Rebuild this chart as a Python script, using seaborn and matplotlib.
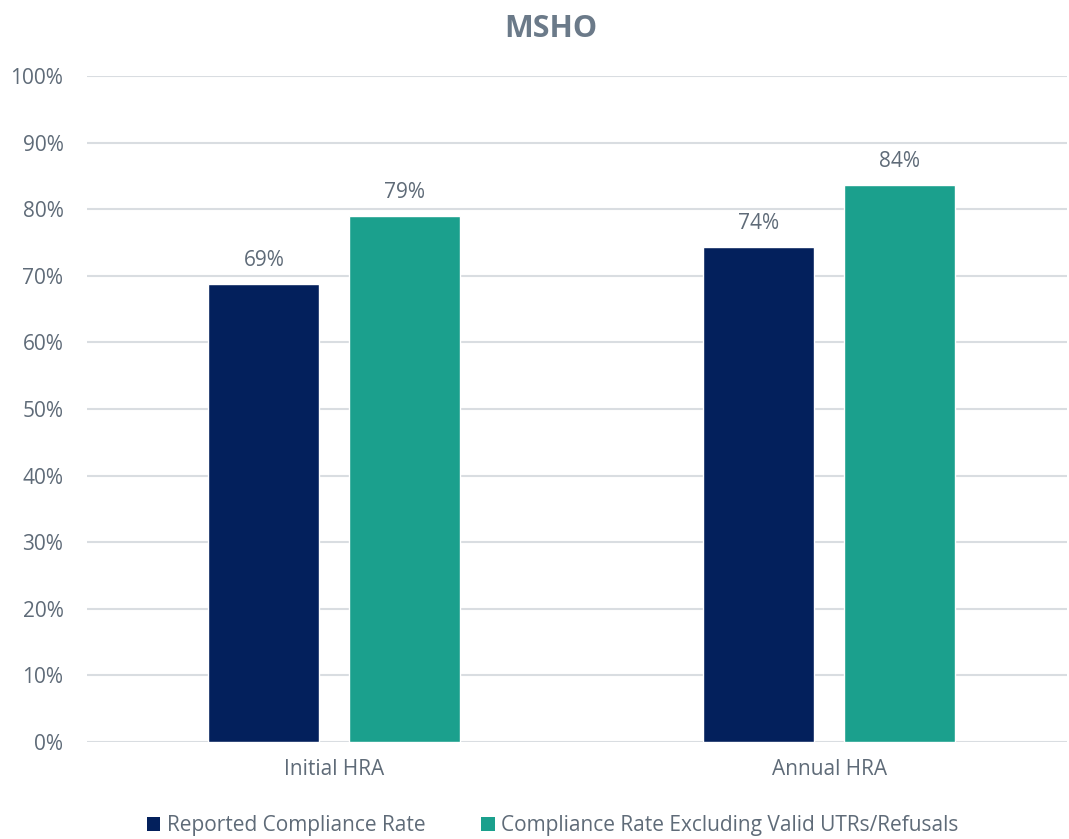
import matplotlib
matplotlib.use("Agg")
import matplotlib.pyplot as plt
import seaborn as sns
import pandas as pd
from matplotlib.patches import Patch
from matplotlib.ticker import PercentFormatter

categories = ["Initial HRA", "Annual HRA"]
series_names = ["Reported Compliance Rate", "Compliance Rate Excluding Valid UTRs/Refusals"]
reported = [0.688, 0.744]
excluding = [0.790, 0.837]
colors = ["#03205C", "#1BA08D"]
text_color = "#5F6B78"

df = pd.DataFrame({
    "category": categories * 2,
    "series": [series_names[0]] * 2 + [series_names[1]] * 2,
    "value": reported + excluding,
})

sns.set_theme(style="white")
plt.rcParams["font.family"] = ["Open Sans", "DejaVu Sans"]

fig = plt.figure(figsize=(10.69, 8.39), dpi=100)
ax = fig.add_axes([0.0814, 0.1156, 0.9166, 0.7938])

sns.barplot(data=df, x="category", y="value", hue="series", order=categories,
            hue_order=series_names, palette=colors, width=0.57, gap=0.213,
            saturation=1, legend=False, ax=ax, zorder=3)

for container in ax.containers:
    ax.bar_label(container, labels=[f"{v:.0%}" for v in container.datavalues],
                 padding=9, fontsize=15, color=text_color)

ax.set_ylim(0, 1)
ax.set_xlim(-0.5, 1.48)
ax.yaxis.set_major_locator(plt.MultipleLocator(0.1))
ax.yaxis.set_major_formatter(PercentFormatter(1.0, decimals=0))
ax.grid(axis="y", color="#D9DDE1", linewidth=1.5, zorder=0)
ax.set_axisbelow(True)
for s in ax.spines.values():
    s.set_visible(False)
ax.set_xlabel("")
ax.set_ylabel("")
ax.tick_params(axis="both", length=0, labelsize=15, labelcolor=text_color)
ax.tick_params(axis="y", pad=17)
ax.tick_params(axis="x", pad=12)

fig.suptitle("MSHO", x=0.515, y=0.983, fontsize=22, fontweight="bold", color="#6B7A89")

handles = [Patch(facecolor=c, edgecolor="none") for c in colors]
fig.legend(handles, series_names, loc="center", bbox_to_anchor=(0.517, 0.016),
           ncol=2, frameon=False, fontsize=15, labelcolor=text_color,
           handlelength=0.65, handleheight=0.65, handletextpad=0.3, columnspacing=2.7)

fig.savefig("out.png", dpi=100)
